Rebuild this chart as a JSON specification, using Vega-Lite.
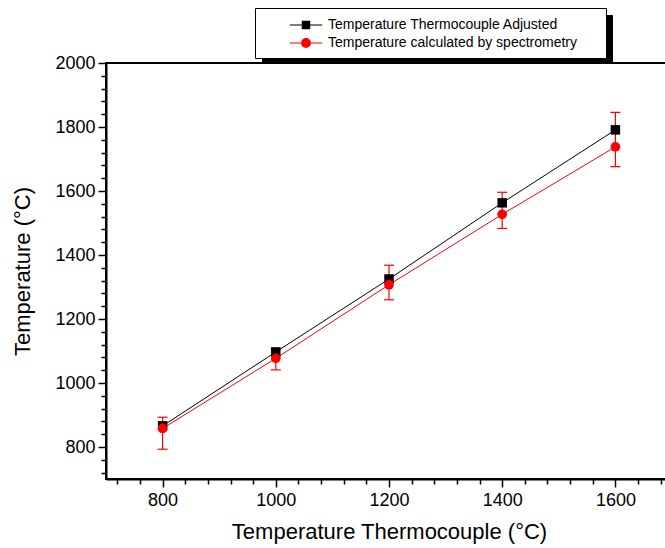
{
  "$schema": "https://vega.github.io/schema/vega-lite/v6.json",
  "width": 566,
  "height": 416,
  "autosize": {"type": "none"},
  "padding": {"left": 106, "top": 63, "right": 0, "bottom": 69},
  "background": "white",
  "config": {
    "font": "Liberation Sans",
    "view": {"stroke": "black", "strokeWidth": 2},
    "axis": {
      "grid": false,
      "domainColor": "black",
      "domainWidth": 2,
      "tickColor": "black",
      "tickWidth": 1.5,
      "labelColor": "black",
      "labelFontSize": 18,
      "labelFont": "Liberation Sans",
      "labelOverlap": false,
      "labelFlush": false,
      "titleColor": "black",
      "titleFont": "Liberation Sans",
      "titleFontSize": 22,
      "titleFontWeight": "normal",
      "format": "d"
    }
  },
  "data": {
    "values": [
      {"x": 800, "series": "Temperature Thermocouple Adjusted", "y": 866},
      {"x": 1000, "series": "Temperature Thermocouple Adjusted", "y": 1097},
      {"x": 1200, "series": "Temperature Thermocouple Adjusted", "y": 1325},
      {"x": 1400, "series": "Temperature Thermocouple Adjusted", "y": 1563},
      {"x": 1600, "series": "Temperature Thermocouple Adjusted", "y": 1791},
      {"x": 800, "series": "Temperature calculated by spectrometry", "y": 858, "lo": 793, "hi": 893},
      {"x": 1000, "series": "Temperature calculated by spectrometry", "y": 1077, "lo": 1041, "hi": 1108},
      {"x": 1200, "series": "Temperature calculated by spectrometry", "y": 1307, "lo": 1260, "hi": 1368},
      {"x": 1400, "series": "Temperature calculated by spectrometry", "y": 1527, "lo": 1483, "hi": 1596},
      {"x": 1600, "series": "Temperature calculated by spectrometry", "y": 1738, "lo": 1676, "hi": 1846}
    ]
  },
  "encoding": {
    "x": {
      "field": "x",
      "type": "quantitative",
      "scale": {"domain": [700, 1700], "nice": false, "zero": false},
      "axis": {
        "title": "Temperature Thermocouple (°C)",
        "values": [720, 760, 800, 840, 880, 920, 960, 1000, 1040, 1080, 1120, 1160, 1200, 1240, 1280, 1320, 1360, 1400, 1440, 1480, 1520, 1560, 1600, 1640, 1680],
        "labelExpr": "datum.value % 200 === 0 ? format(datum.value, 'd') : ''",
        "tickSize": {"condition": {"test": "datum.value % 200 === 0", "value": 8}, "value": 5},
        "labelPadding": 4,
        "titlePadding": 12
      }
    },
    "y": {
      "field": "y",
      "type": "quantitative",
      "scale": {"domain": [700, 2000], "nice": false, "zero": false},
      "axis": {
        "title": "Temperature (°C)",
        "values": [720, 760, 800, 840, 880, 920, 960, 1000, 1040, 1080, 1120, 1160, 1200, 1240, 1280, 1320, 1360, 1400, 1440, 1480, 1520, 1560, 1600, 1640, 1680, 1720, 1760, 1800, 1840, 1880, 1920, 1960, 2000],
        "labelExpr": "datum.value % 200 === 0 ? format(datum.value, 'd') : ''",
        "tickSize": {"condition": {"test": "datum.value % 200 === 0", "value": 8}, "value": 5},
        "labelPadding": 3,
        "titlePadding": 20
      }
    }
  },
  "layer": [
    {
      "transform": [
        {"filter": "isValid(datum.lo)"},
        {"fold": ["lo", "hi"], "as": ["bound", "y"]}
      ],
      "mark": {"type": "line", "color": "#ff0000", "strokeWidth": 1.2},
      "encoding": {
        "detail": {"field": "x", "type": "nominal"}
      }
    },
    {
      "transform": [
        {"filter": "isValid(datum.lo)"},
        {"fold": ["lo", "hi"], "as": ["bound", "y"]}
      ],
      "mark": {"type": "tick", "orient": "horizontal", "color": "#ff0000", "size": 10, "thickness": 1.2, "opacity": 1}
    },
    {
      "mark": {"type": "line"},
      "encoding": {
        "color": {
          "field": "series",
          "type": "nominal",
          "scale": {"domain": ["Temperature calculated by spectrometry", "Temperature Thermocouple Adjusted"], "range": ["#ff0000", "#000000"]},
          "legend": {
            "title": null,
            "orient": "none",
            "legendX": 156,
            "legendY": -48,
            "strokeColor": "black",
            "fillColor": "black",
            "padding": 6,
            "rowPadding": 0,
            "symbolSize": 324,
            "symbolStrokeWidth": 0,
            "symbolOffset": 320,
            "labelOffset": 0,
            "labelFontSize": 14,
            "labelExpr": "''",
            "encode": {
              "symbols": {
                "update": {
                  "shape": {"value": "square"},
                  "fill": {"value": "black"},
                  "stroke": {"value": "transparent"},
                  "strokeWidth": {"value": 0},
                  "opacity": {"value": 1}
                }
              }
            }
          }
        },
        "strokeWidth": {
          "field": "series",
          "type": "nominal",
          "scale": {"domain": ["Temperature Thermocouple Adjusted", "Temperature calculated by spectrometry", "x"], "range": [1, 1, 1]},
          "legend": {
            "title": null,
            "orient": "none",
            "legendX": 149,
            "legendY": -55,
            "values": ["Temperature Thermocouple Adjusted", "Temperature calculated by spectrometry"],
            "strokeColor": "black",
            "fillColor": "white",
            "padding": 6,
            "rowPadding": 0,
            "symbolSize": 324,
            "symbolOffset": 320,
            "labelOffset": 0,
            "labelFontSize": 14,
            "labelExpr": "''",
            "encode": {
              "symbols": {
                "update": {
                  "shape": {"value": "square"},
                  "fill": {"value": "white"},
                  "stroke": {"value": "white"},
                  "opacity": {"value": 0}
                }
              }
            }
          }
        },
        "opacity": {
          "field": "series",
          "type": "nominal",
          "scale": {"domain": ["Temperature Thermocouple Adjusted", "Temperature calculated by spectrometry"], "range": [1, 1]},
          "legend": {
            "title": null,
            "orient": "none",
            "legendX": 149,
            "legendY": -54,
            "padding": 6,
            "rowPadding": 0,
            "symbolSize": 324,
            "symbolOffset": 35,
            "labelOffset": 12,
            "labelFontSize": 14,
            "labelFont": "Liberation Sans",
            "labelColor": "black",
            "labelLimit": 450,
            "encode": {
              "symbols": {
                "update": {
                  "shape": {"signal": "datum.value === 'Temperature Thermocouple Adjusted' ? 'M-1.8,-0.06H-0.47V0.06H-1.8Z M0.47,-0.06H1.8V0.06H0.47Z M-0.47,-0.47H0.47V0.47H-0.47Z' : 'M-1.8,-0.06H-0.55V0.06H-1.8Z M0.55,-0.06H1.8V0.06H0.55Z M0.55,0A0.55,0.55 0 1,0 -0.55,0A0.55,0.55 0 1,0 0.55,0Z'"},
                  "fill": {"signal": "datum.value === 'Temperature Thermocouple Adjusted' ? '#000000' : '#ff0000'"},
                  "stroke": {"value": "transparent"},
                  "opacity": {"value": 1}
                }
              }
            }
          }
        }
      }
    },
    {
      "transform": [{"filter": "datum.series === 'Temperature Thermocouple Adjusted'"}],
      "mark": {"type": "point", "shape": "square", "filled": true, "size": 90, "opacity": 1},
      "encoding": {
        "color": {"field": "series", "type": "nominal"}
      }
    },
    {
      "transform": [{"filter": "datum.series === 'Temperature calculated by spectrometry'"}],
      "mark": {"type": "point", "shape": "circle", "filled": true, "size": 95, "opacity": 1},
      "encoding": {
        "color": {"field": "series", "type": "nominal"}
      }
    }
  ]
}
